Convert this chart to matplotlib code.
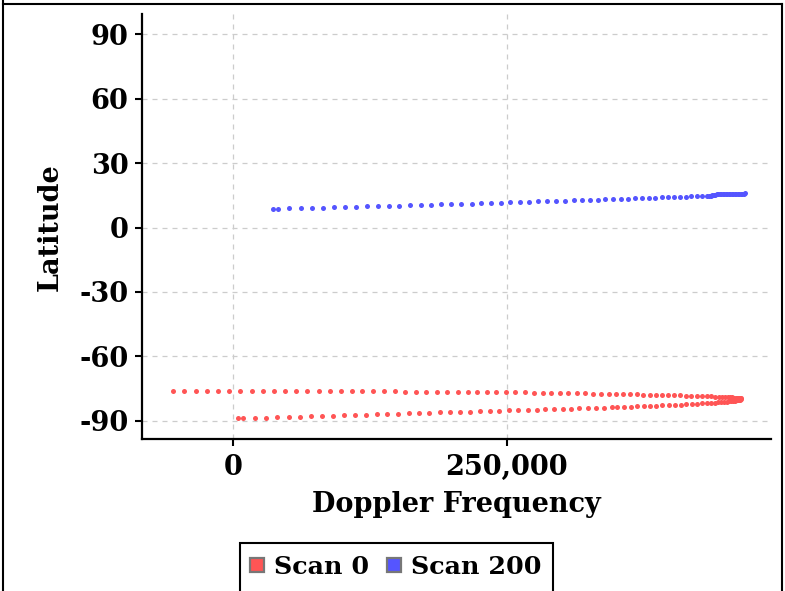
import matplotlib
matplotlib.use("Agg")
import matplotlib.pyplot as plt
from matplotlib.lines import Line2D
from matplotlib.patches import Rectangle
from matplotlib.ticker import FuncFormatter

# ---------------- data ----------------
scan0_doppler = [
    # upper branch (left -> tip)
    -54200, -44160, -33760, -23720, -13140, -3100, 6930, 17340, 27370, 37680,
    47990, 58030, 68070, 78470, 88500, 98540, 108580, 118250, 128010, 138050,
    147810, 157480, 167240, 176640, 186400, 195800, 205560, 214960, 223170, 231750,
    240510, 249360, 257850, 266420, 274630, 282840, 290690, 298630, 306200, 313870,
    321160, 328460, 335760, 343060, 350000, 356390, 362500, 368610, 374630, 380750,
    386220, 391970, 397440, 402920, 408120, 413320, 418430, 423350, 428010, 432390,
    436400, 440050, 443430, 446440, 449180, 451640, 453740, 455740, 457390, 458850,
    460120, 461220, 462040, 462680, 463130, 463410, 463780,
    # lower branch (start -> tip)
    5110, 9670, 20620, 30660, 40690, 51090, 61410, 71440, 81750, 91510,
    101550, 111590, 121350, 131390, 141060, 150820, 160580, 169980, 179380, 188870,
    198270, 207660, 216790, 225640, 234490, 243250, 251820, 260580, 269160, 277370,
    285220, 293150, 301090, 308940, 316240, 323900, 331200, 338500, 345800, 350910,
    357020, 363140, 369160, 375000, 380750, 386490, 391970, 397810, 403280, 408760,
    413870, 418880, 423630, 428190, 432300, 436130, 439590, 442790, 445710, 448350,
    450730, 452820, 454650, 456290, 457750, 459030, 460120, 461040, 461770, 462410,
    462870,
]
scan0_latitude = [
    -76.3, -76.3, -76.3, -76.3, -76.3, -76.3, -76.3, -76.3, -76.3, -76.3,
    -76.3, -76.3, -76.3, -76.3, -76.3, -76.4, -76.4, -76.4, -76.4, -76.4,
    -76.4, -76.5, -76.5, -76.5, -76.5, -76.6, -76.6, -76.6, -76.7, -76.7,
    -76.8, -76.8, -76.9, -76.9, -77.0, -77.0, -77.1, -77.1, -77.2, -77.2,
    -77.3, -77.4, -77.4, -77.5, -77.6, -77.67, -77.73, -77.79, -77.86, -77.92,
    -77.99, -78.05, -78.12, -78.19, -78.26, -78.34, -78.41, -78.49, -78.57, -78.65,
    -78.72, -78.80, -78.87, -78.94, -79.01, -79.08, -79.15, -79.21, -79.28, -79.34,
    -79.41, -79.47, -79.53, -79.58, -79.64, -79.68, -79.8,
    -89.00, -88.93, -88.77, -88.61, -88.46, -88.30, -88.15, -88.00, -87.84, -87.69,
    -87.54, -87.39, -87.24, -87.09, -86.94, -86.80, -86.65, -86.51, -86.37, -86.22,
    -86.08, -85.94, -85.80, -85.67, -85.53, -85.40, -85.27, -85.14, -85.01, -84.88,
    -84.77, -84.65, -84.53, -84.41, -84.30, -84.18, -84.07, -83.96, -83.82, -83.74,
    -83.63, -83.52, -83.40, -83.29, -83.18, -83.06, -82.94, -82.81, -82.68, -82.55,
    -82.42, -82.28, -82.15, -82.01, -81.88, -81.75, -81.62, -81.50, -81.38, -81.25,
    -81.14, -81.03, -80.92, -80.81, -80.71, -80.61, -80.51, -80.41, -80.33, -80.23,
    -80.15,
]

scan200_doppler = [
    36500, 41060, 51640, 62040, 72080, 82120, 92430, 102460, 112500, 122540,
    132300, 142330, 152000, 161770, 171800, 180930, 190330, 199450, 208580, 218060,
    226820, 235950, 244800, 253280, 261860, 270620, 278830, 287040, 295250, 303190,
    311130, 318700, 326000, 333030, 339960, 347260, 354010, 360670, 367060, 373450,
    379560, 385580, 391420, 397170, 402640, 408120, 413320, 418430, 423630, 428460,
    433030, 434580, 435950, 437310, 438680, 440050, 441420, 442790, 444160, 445530,
    446900, 448260, 449630, 451000, 452370, 453740, 455110, 456470, 457840, 459210,
    460580, 461950, 463320, 464690, 466060, 467430,
]
scan200_latitude = [
    8.71, 8.75, 8.90, 9.04, 9.17, 9.29, 9.43, 9.56, 9.68, 9.81,
    9.94, 10.07, 10.19, 10.32, 10.45, 10.60, 10.75, 10.89, 11.03, 11.18,
    11.32, 11.47, 11.61, 11.74, 11.87, 12.01, 12.14, 12.27, 12.40, 12.53,
    12.65, 12.77, 12.90, 13.02, 13.14, 13.27, 13.39, 13.51, 13.62, 13.73,
    13.84, 13.94, 14.05, 14.15, 14.24, 14.34, 14.43, 14.52, 14.61, 14.70,
    14.77, 14.85, 14.90, 14.95, 15.00, 15.05, 15.45, 15.47, 15.50, 15.52,
    15.55, 15.57, 15.60, 15.62, 15.64, 15.66, 15.68, 15.70, 15.72, 15.74,
    15.76, 15.78, 15.80, 15.82, 15.84, 15.86,
]

series_names = ["Scan 0", "Scan 200"]
series_colors = ["#ff5555", "#5555ff"]
x_ticks = [0, 250000]
y_ticks = [-90, -60, -30, 0, 30, 60, 90]
x_label = "Doppler Frequency"
y_label = "Latitude"

# ---------------- figure ----------------
plt.rcParams["font.family"] = ["DejaVu Serif"]
plt.rcParams["font.weight"] = "bold"

W, H = 785, 591
fig = plt.figure(figsize=(W / 100, H / 100), dpi=100)
ax = fig.add_axes([142.3 / W, 1 - 439 / H, (771 - 142.3) / W, (439 - 14.3) / H])

ax.scatter(scan0_doppler, scan0_latitude, s=13, color=series_colors[0],
           linewidths=0, zorder=3)
ax.scatter(scan200_doppler, scan200_latitude, s=13, color=series_colors[1],
           linewidths=0, zorder=3)

ax.set_xlim(-82500, 491000)
ax.set_ylim(-98.6, 99.4)
ax.set_xticks(x_ticks)
ax.set_yticks(y_ticks)
ax.xaxis.set_major_formatter(FuncFormatter(lambda v, p: f"{int(v):,}"))
ax.yaxis.set_major_formatter(FuncFormatter(lambda v, p: f"{int(v)}"))

ax.grid(True, color="#cccccc", linestyle=(0, (4, 4)), linewidth=0.9, zorder=0)
ax.set_axisbelow(True)
for side in ("top", "right"):
    ax.spines[side].set_visible(False)
for side in ("left", "bottom"):
    ax.spines[side].set_linewidth(1.6)
    ax.spines[side].set_color("black")
ax.tick_params(axis="both", direction="out", length=5, width=1.5,
               labelsize=19.5, colors="black")
ax.tick_params(axis="x", pad=6)
ax.tick_params(axis="y", pad=5)
for lbl in ax.get_xticklabels() + ax.get_yticklabels():
    lbl.set_fontweight("bold")

ax.set_xlabel(x_label, fontsize=19.5, fontweight="bold", labelpad=7)
ax.set_ylabel(y_label, fontsize=19.5, fontweight="bold", labelpad=11)

# outer frame of the figure
for xs, ys in [([3 / W, 3 / W], [0, 1]),
               ([3 / W, 782 / W], [1 - 4 / H, 1 - 4 / H]),
               ([782 / W, 782 / W], [0, 1 - 4 / H])]:
    fig.add_artist(Line2D(xs, ys, transform=fig.transFigure, color="black", lw=1.5))

# legend
handles = [Line2D([], [], marker="s", linestyle="", markersize=10.5,
                  markerfacecolor=c, markeredgecolor="#777777", markeredgewidth=1.6)
           for c in series_colors]
fig.legend(handles, series_names, loc="center",
           bbox_to_anchor=(396 / W, 1 - 567 / H), ncol=2, frameon=False,
           handlelength=0.5, handletextpad=0.45, columnspacing=0.7,
           borderpad=0, borderaxespad=0,
           prop={"weight": "bold", "size": 18.3})
fig.add_artist(Rectangle((240 / W, -0.05), (553 - 240) / W, 0.05 + (591 - 543) / H,
                         transform=fig.transFigure, fill=False,
                         edgecolor="black", lw=1.5))

fig.savefig("out.png", dpi=100)
